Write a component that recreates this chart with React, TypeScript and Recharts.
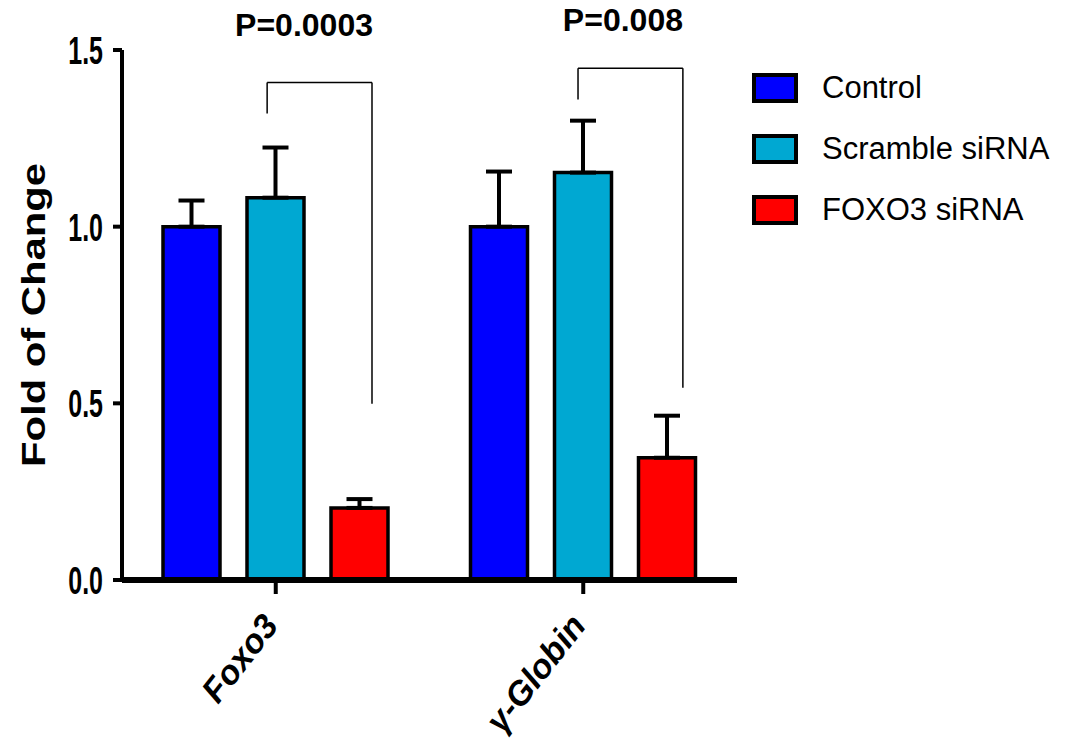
import {
  Bar,
  BarChart,
  ErrorBar,
  Legend,
  ReferenceDot,
  ReferenceLine,
  XAxis,
  YAxis,
} from "recharts";

const GENES = ["Foxo3", "γ-Globin"];

const CONTROL = [1.0, 1.0];
const CONTROL_SEM = [0.074, 0.156];
const SCRAMBLE = [1.082, 1.153];
const SCRAMBLE_SEM = [0.142, 0.147];
const FOXO3_SI = [0.204, 0.346];
const FOXO3_SI_SEM = [0.025, 0.119];

const Y_TICKS = [0, 0.5, 1.0, 1.5];

// significance brackets: x as fraction of the x axis (0..1), y in fold units
const BRACKET_LEFT = [0.236, 0.7415];
const BRACKET_RIGHT = [0.4065, 0.912];
const BRACKET_TOP = [1.408, 1.448];
const BRACKET_LEFT_END = [1.32, 1.36];
const BRACKET_RIGHT_END = [0.499, 0.544];
const P_LABELS = ["P=0.0003", "P=0.008"];
const P_LABEL_X = [0.296, 0.8145];
const P_LABEL_Y = [1.572, 1.586];

const SERIES = [
  { key: "control", err: "controlErr", label: "Control", color: "#0000ff" },
  { key: "scramble", err: "scrambleErr", label: "Scramble siRNA", color: "#00a8d2" },
  { key: "foxo3", err: "foxo3Err", label: "FOXO3 siRNA", color: "#ff0000" },
] as const;

const data = GENES.map((gene, i) => ({
  gene,
  control: CONTROL[i],
  controlErr: [0, CONTROL_SEM[i]],
  scramble: SCRAMBLE[i],
  scrambleErr: [0, SCRAMBLE_SEM[i]],
  foxo3: FOXO3_SI[i],
  foxo3Err: [0, FOXO3_SI_SEM[i]],
}));

const FONT = "'Liberation Sans', Arial, sans-serif";

function YTick({ x, y, payload }: any) {
  return (
    <g transform={`translate(${x},${y}) scale(0.64,1)`}>
      <text
        textAnchor="end"
        dy="0.36em"
        fontSize={39}
        fontWeight="bold"
        fontFamily={FONT}
        fill="#000"
      >
        {Number(payload.value).toFixed(1)}
      </text>
    </g>
  );
}

function XTick({ x, y, payload }: any) {
  return (
    <g transform={`translate(${x + 4},${y + 30}) rotate(-52)`}>
      <text
        textAnchor="end"
        fontSize={34}
        fontWeight="bold"
        fontStyle="italic"
        fontFamily={FONT}
        fill="#000"
      >
        {payload.value}
      </text>
    </g>
  );
}

function YLabel({ viewBox }: any) {
  const cx = (viewBox?.x ?? 0) + 33;
  const cy = (viewBox?.y ?? 50) + (viewBox?.height ?? 530) / 2;
  return (
    <text
      transform={`translate(${cx},${cy}) rotate(-90)`}
      textAnchor="middle"
      dy="0.36em"
      fontSize={33}
      fontWeight="bold"
      fontFamily={FONT}
      fill="#000"
      textLength={304}
      lengthAdjust="spacingAndGlyphs"
    >
      Fold of Change
    </text>
  );
}

function LegendBox() {
  return (
    <div style={{ fontFamily: FONT }}>
      {SERIES.map((s) => (
        <div key={s.key} style={{ display: "flex", alignItems: "center", height: 61 }}>
          <div
            style={{
              width: 46,
              height: 30,
              boxSizing: "border-box",
              border: "4px solid #000",
              background: s.color,
              marginRight: 24,
            }}
          />
          <span style={{ fontSize: 31, color: "#000" }}>{s.label}</span>
        </div>
      ))}
    </div>
  );
}

export default function App() {
  return (
    <div style={{ position: "absolute", left: 0, top: 0, background: "#fff" }}>
      <BarChart
        width={1076}
        height={742}
        data={data}
        margin={{ top: 50, right: 339, bottom: 12, left: 0 }}
        barSize={57}
        barGap={27}
      >
        <XAxis
          dataKey="gene"
          height={150}
          tick={<XTick />}
          tickSize={14}
          tickMargin={2}
          axisLine={{ stroke: "#000", strokeWidth: 6 }}
          tickLine={{ stroke: "#000", strokeWidth: 4 }}
          interval={0}
        />
        <XAxis xAxisId="num" type="number" domain={[0, 1]} allowDataOverflow hide />
        <YAxis
          width={122}
          domain={[0, 1.5]}
          ticks={Y_TICKS}
          tick={<YTick />}
          tickSize={9}
          tickMargin={10}
          axisLine={{ stroke: "#000", strokeWidth: 4 }}
          tickLine={{ stroke: "#000", strokeWidth: 4 }}
          label={<YLabel />}
        />
        <Legend
          layout="vertical"
          align="center"
          verticalAlign="middle"
          wrapperStyle={{ left: 752, top: 57, width: 320 }}
          content={() => <LegendBox />}
        />
        {SERIES.map((s) => (
          <Bar
            key={s.key}
            dataKey={s.key}
            name={s.label}
            fill={s.color}
            stroke="#000"
            strokeWidth={3.5}
            isAnimationActive={false}
          >
            <ErrorBar
              dataKey={s.err}
              width={13}
              stroke="#000"
              strokeWidth={4}
              direction="y"
              isAnimationActive={false}
            />
          </Bar>
        ))}
        {P_LABELS.map((p, i) => [
          <ReferenceLine
            key={`l${i}`}
            xAxisId="num"
            segment={[
              { x: BRACKET_LEFT[i], y: BRACKET_LEFT_END[i] },
              { x: BRACKET_LEFT[i], y: BRACKET_TOP[i] },
            ]}
            stroke="#000"
            strokeWidth={1.5}
            ifOverflow="visible"
          />,
          <ReferenceLine
            key={`t${i}`}
            xAxisId="num"
            segment={[
              { x: BRACKET_LEFT[i], y: BRACKET_TOP[i] },
              { x: BRACKET_RIGHT[i], y: BRACKET_TOP[i] },
            ]}
            stroke="#000"
            strokeWidth={1.5}
            ifOverflow="visible"
          />,
          <ReferenceLine
            key={`r${i}`}
            xAxisId="num"
            segment={[
              { x: BRACKET_RIGHT[i], y: BRACKET_TOP[i] },
              { x: BRACKET_RIGHT[i], y: BRACKET_RIGHT_END[i] },
            ]}
            stroke="#000"
            strokeWidth={1.5}
            ifOverflow="visible"
          />,
          <ReferenceDot
            key={`p${i}`}
            xAxisId="num"
            x={P_LABEL_X[i]}
            y={P_LABEL_Y[i]}
            r={1}
            fill="none"
            stroke="none"
            ifOverflow="visible"
            label={{
              value: p,
              position: "center",
              fontSize: 32,
              fontWeight: "bold",
              fontFamily: FONT,
              fill: "#000",
            }}
          />,
        ])}
      </BarChart>
    </div>
  );
}
